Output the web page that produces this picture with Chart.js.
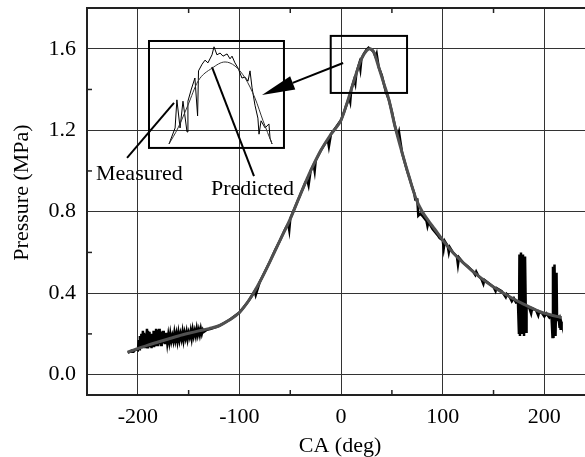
<!DOCTYPE html>
<html>
<head>
<meta charset="utf-8">
<script src="https://cdn.jsdelivr.net/npm/chart.js@4.4.0/dist/chart.umd.min.js"></script>
<style>
  html, body { margin: 0; padding: 0; background: #fff; }
  #wrap { position: relative; width: 585px; height: 457px; }
  #inset { position: absolute; left: 0; top: 0; }
</style>
</head>
<body>
<div id="wrap">
  <canvas id="main" width="585" height="457"></canvas>
  <canvas id="inset" width="10" height="10"></canvas>
</div>
<script>
// Axis ticks
const xTicks = [-200, -100, 0, 100, 200];
const yTicks = [0, 0.4, 0.8, 1.2, 1.6];
const xMinor = [-150, -50, 50, 150];
const yMinor = [0.2, 0.6, 1.0, 1.4];

// Predicted pressure (smooth curve)
const predCA = [-210, -200, -190, -180, -170, -160, -150, -140, -130, -120, -110, -100, -90, -80, -70, -60,
  -50, -40, -30, -20, -10, 0, 5, 10, 15, 20, 25, 28, 32, 37, 42, 47, 53, 60, 67, 74, 80, 86, 92, 100,
  110, 120, 135, 150, 165, 180, 195, 205, 217];
const predP = [0.11, 0.128, 0.145, 0.16, 0.175, 0.19, 0.203, 0.215, 0.226, 0.24, 0.268, 0.305, 0.37, 0.455, 0.555, 0.66,
  0.765, 0.885, 1.0, 1.1, 1.18, 1.25, 1.32, 1.40, 1.48, 1.55, 1.59, 1.6, 1.585, 1.51, 1.43, 1.35, 1.22, 1.09, 0.97, 0.86, 0.8, 0.755, 0.715, 0.66,
  0.6, 0.55, 0.485, 0.43, 0.385, 0.345, 0.31, 0.295, 0.28];

// Measured pressure (noisy trace)
const measCA = [-210, -208, -206, -204, -202, -200, -199, -198.5, -198, -197, -196.5, -196, -195, -194.5, -194, -193, -192.5, -192, -191, -190.5, -190,
  -189, -188.5, -188, -187, -186.5, -186, -185, -184.5, -184, -183, -182.5, -182, -181, -180.5, -180, -179, -178.5, -178, -177, -176.5, -176, -175, -174.5, -174, -173, -172,
  -171, -170, -169, -168, -167, -166, -165, -164, -163, -162, -161, -160, -159, -158, -157, -156, -155, -154, -153, -152, -151, -150, -149, -148, -147, -146, -145, -144,
  -143, -142, -141, -140, -139, -138, -137, -136, -135, -132, -128, -124, -120, -110, -100, -92, -90, -85, -84, -80, -75, -70,
  -65, -60, -55, -52, -51, -50, -45, -40, -35, -33, -32, -30, -27, -26, -25, -20, -15, -13, -12, -10, -5,
  0, 3, 5, 8, 9, 10, 13, 14, 15, 18, 19, 20, 23, 25, 27, 28, 30, 32, 34, 35, 37, 40, 42, 44, 47, 50, 53,
  56, 57, 60, 65, 67, 70, 72, 73, 75, 76, 78, 80, 84, 85, 86, 90, 95, 97, 100, 101, 102, 105, 106, 107, 110,
  114, 115, 116, 120, 125, 130, 132, 133, 135, 138, 140, 141, 145, 150, 152, 153, 158, 160, 162, 163, 166,
  168, 170, 172, 174, 175, 175.5, 176, 177, 178, 179, 180, 181, 182, 182.5, 185, 187, 188, 192, 194, 195,
  198, 200, 202, 205, 207, 208, 208.5, 209, 210, 211, 212, 212.5, 214, 215, 215.5, 216, 216.5, 217];
const measP = [0.108, 0.112, 0.118, 0.114, 0.125, 0.12, 0.17, 0.125, 0.19, 0.135, 0.2, 0.13, 0.215, 0.14, 0.205, 0.13, 0.2, 0.14, 0.225, 0.135, 0.215,
  0.14, 0.21, 0.135, 0.19, 0.13, 0.2, 0.14, 0.215, 0.135, 0.2, 0.14, 0.225, 0.145, 0.22, 0.14, 0.225, 0.15, 0.215, 0.145, 0.21, 0.15, 0.215, 0.155, 0.2, 0.15, 0.205,
  0.155, 0.195, 0.16, 0.2, 0.165, 0.19, 0.165, 0.205, 0.17, 0.2, 0.165, 0.205, 0.17, 0.2, 0.175, 0.21, 0.17, 0.205, 0.18, 0.21, 0.175, 0.205, 0.185, 0.215, 0.18, 0.22, 0.19, 0.215,
  0.19, 0.225, 0.195, 0.22, 0.195, 0.225, 0.2, 0.22, 0.21, 0.22, 0.225, 0.232, 0.24, 0.268, 0.305, 0.355, 0.37, 0.41, 0.39, 0.455, 0.505, 0.555,
  0.61, 0.66, 0.715, 0.74, 0.71, 0.765, 0.825, 0.885, 0.945, 0.95, 0.93, 1.0, 1.03, 1.0, 1.05, 1.1, 1.14, 1.15, 1.12, 1.18, 1.215,
  1.25, 1.29, 1.32, 1.36, 1.34, 1.40, 1.45, 1.43, 1.48, 1.53, 1.5, 1.55, 1.58, 1.595, 1.605, 1.6, 1.595, 1.585, 1.56, 1.575, 1.51, 1.47, 1.43, 1.39, 1.35, 1.29, 1.22,
  1.17, 1.19, 1.09, 1.0, 0.97, 0.92, 0.89, 0.86, 0.86, 0.78, 0.79, 0.78, 0.755, 0.73, 0.75, 0.715, 0.685, 0.67, 0.66, 0.62, 0.655, 0.63, 0.6, 0.625, 0.6,
  0.58, 0.54, 0.575, 0.55, 0.53, 0.505, 0.49, 0.505, 0.485, 0.47, 0.445, 0.465, 0.45, 0.43, 0.41, 0.425, 0.41, 0.395, 0.38, 0.395, 0.38,
  0.36, 0.375, 0.355, 0.36, 0.2, 0.59, 0.19, 0.6, 0.2, 0.59, 0.19, 0.58, 0.21, 0.34, 0.33, 0.3, 0.325, 0.315, 0.29, 0.31,
  0.3, 0.285, 0.3, 0.28, 0.29, 0.185, 0.53, 0.18, 0.54, 0.19, 0.5, 0.27, 0.28, 0.23, 0.27, 0.22, 0.26, 0.25];

// Inset (magnified peak), its own CA / pressure window
const insetPredCA = [8.9, 12.9, 17.3, 21.8, 28.0, 33.8, 38.2, 42.7, 47.1, 50.7, 54.7];
const insetPredP = [1.409, 1.445, 1.496, 1.550, 1.579, 1.593, 1.584, 1.557, 1.512, 1.461, 1.409];
const insetMeasCA = [8.9, 11.6, 12.4, 13.8, 15.1, 16.9, 17.3, 18.7, 20.4, 21.6, 22.0, 23.6, 24.9, 26.2, 28.0, 28.9,
  30.2, 31.6, 32.9, 34.7, 36.0, 36.9, 38.2, 39.6, 41.3, 42.7, 44.0, 44.9, 45.8, 47.1, 48.4, 48.9, 49.8, 51.6, 53.3, 53.8, 54.7];
const insetMeasP = [1.409, 1.445, 1.508, 1.445, 1.505, 1.436, 1.505, 1.530, 1.557, 1.472, 1.573, 1.588, 1.597, 1.591, 1.609, 1.627,
  1.609, 1.613, 1.606, 1.611, 1.600, 1.606, 1.591, 1.579, 1.557, 1.559, 1.550, 1.573, 1.535, 1.496, 1.467, 1.431, 1.461, 1.445, 1.454, 1.422, 1.409];

// Annotation geometry in data units
const zoomBox = { x0: -10.2, x1: 64.9, y0: 1.383, y1: 1.663 };
const insetBox = { x0: -189, x1: -56.2, y0: 1.113, y1: 1.638 };
const arrow = { x0: 2, y0: 1.53, x1: -77.8, y1: 1.373 };
const measLeader = { x0: -210.6, y0: 1.064, x1: -164.4, y1: 1.334 };
const predLeader = { x0: -127, y0: 1.51, x1: -85.7, y1: 0.975 };
const measLabel = { x: -241.1, y: 0.956, text: 'Measured' };
const predLabel = { x: -128, y: 0.882, text: 'Predicted' };

const FONT = '"Liberation Serif", "Times New Roman", serif';
Chart.defaults.font.family = FONT;
Chart.defaults.font.size = 22;
Chart.defaults.color = '#000';

function pairs(xs, ys) {
  return xs.map((v, i) => ({ x: v, y: ys[i] }));
}

const decorPlugin = {
  id: 'decor',
  afterDraw(chart) {
    const { ctx, chartArea: a, scales: { x, y } } = chart;
    const line = (x0, y0, x1, y1) => {
      ctx.beginPath(); ctx.moveTo(x0, y0); ctx.lineTo(x1, y1); ctx.stroke();
    };
    ctx.save();
    ctx.strokeStyle = '#222';
    ctx.lineWidth = 2;
    // top frame
    line(a.left, a.top, a.right, a.top);
    // minor ticks, inward
    ctx.lineWidth = 1.5;
    xMinor.forEach(v => {
      const px = x.getPixelForValue(v);
      line(px, a.bottom, px, a.bottom - 5);
      line(px, a.top, px, a.top + 5);
    });
    yMinor.forEach(v => {
      const py = y.getPixelForValue(v);
      line(a.left, py, a.left + 5, py);
    });

    // boxes
    ctx.strokeStyle = '#000';
    ctx.lineWidth = 2;
    [zoomBox, insetBox].forEach(b => {
      const l = x.getPixelForValue(b.x0), r = x.getPixelForValue(b.x1);
      const t = y.getPixelForValue(b.y1), btm = y.getPixelForValue(b.y0);
      ctx.strokeRect(l, t, r - l, btm - t);
    });

    // leader lines
    ctx.lineWidth = 2;
    [measLeader, predLeader].forEach(s => {
      line(x.getPixelForValue(s.x0), y.getPixelForValue(s.y0), x.getPixelForValue(s.x1), y.getPixelForValue(s.y1));
    });

    // arrow
    const ax0 = x.getPixelForValue(arrow.x0), ay0 = y.getPixelForValue(arrow.y0);
    const ax1 = x.getPixelForValue(arrow.x1), ay1 = y.getPixelForValue(arrow.y1);
    const len = Math.hypot(ax0 - ax1, ay0 - ay1);
    const ux = (ax0 - ax1) / len, uy = (ay0 - ay1) / len;
    const headLen = 33, half = 7;
    const bx = ax1 + ux * headLen, by = ay1 + uy * headLen;
    line(ax0, ay0, bx, by);
    ctx.fillStyle = '#000';
    ctx.beginPath();
    ctx.moveTo(ax1, ay1);
    ctx.lineTo(bx - uy * half, by + ux * half);
    ctx.lineTo(bx + uy * half, by - ux * half);
    ctx.closePath();
    ctx.fill();

    // labels
    ctx.font = '22px ' + FONT;
    ctx.textAlign = 'left';
    ctx.textBaseline = 'alphabetic';
    [measLabel, predLabel].forEach(l => {
      ctx.fillText(l.text, x.getPixelForValue(l.x), y.getPixelForValue(l.y));
    });

    // axis titles
    ctx.textAlign = 'center';
    ctx.textBaseline = 'middle';
    ctx.fillText('CA (deg)', (a.left + a.right) / 2 + 4, a.bottom + 51);
    ctx.translate(22, (a.top + a.bottom) / 2 - 9);
    ctx.rotate(-Math.PI / 2);
    ctx.fillText('Pressure (MPa)', 0, 0);
    ctx.restore();
  }
};

const mainChart = new Chart(document.getElementById('main'), {
  type: 'line',
  data: {
    datasets: [
      {
        label: 'Predicted',
        data: pairs(predCA, predP),
        borderColor: '#505050',
        borderWidth: 3,
        pointRadius: 0,
        cubicInterpolationMode: 'monotone',
        order: 0
      },
      {
        label: 'Measured',
        data: pairs(measCA, measP),
        borderColor: '#000',
        borderWidth: 2.5,
        pointRadius: 0,
        tension: 0,
        order: 1
      }
    ]
  },
  options: {
    responsive: false,
    animation: false,
    events: [],
    layout: { padding: { top: 8, right: 0, left: 0, bottom: 0 } },
    plugins: { legend: { display: false }, tooltip: { enabled: false } },
    scales: {
      x: {
        type: 'linear',
        min: -250,
        max: 240,
        afterBuildTicks: s => { s.ticks = xTicks.map(v => ({ value: v })); },
        afterFit: s => { s.height = 62; s.paddingLeft = 0; s.paddingRight = 0; },
        grid: { color: '#333', lineWidth: 1, drawTicks: false },
        border: { color: '#222', width: 2 },
        ticks: { padding: 9, maxRotation: 0, callback: v => String(v) }
      },
      y: {
        min: -0.1,
        max: 1.8,
        afterBuildTicks: s => { s.ticks = yTicks.map(v => ({ value: v })); },
        afterFit: s => { s.width = 87; s.paddingTop = 0; s.paddingBottom = 0; },
        grid: { color: '#333', lineWidth: 1, drawTicks: false },
        border: { color: '#222', width: 2 },
        ticks: { padding: 11, callback: v => Number(v).toFixed(1) }
      }
    }
  },
  plugins: [decorPlugin]
});

// Inset chart placed over the inset box
const sx = mainChart.scales.x, sy = mainChart.scales.y;
const boxLeft = Math.round(sx.getPixelForValue(insetBox.x0));
const boxRight = Math.round(sx.getPixelForValue(insetBox.x1));
const boxTop = Math.round(sy.getPixelForValue(insetBox.y1));
const boxBottom = Math.round(sy.getPixelForValue(insetBox.y0));
const insetCanvas = document.getElementById('inset');
insetCanvas.width = boxRight - boxLeft;
insetCanvas.height = boxBottom - boxTop;
insetCanvas.style.left = boxLeft + 'px';
insetCanvas.style.top = boxTop + 'px';
insetCanvas.style.width = (boxRight - boxLeft) + 'px';
insetCanvas.style.height = (boxBottom - boxTop) + 'px';

new Chart(insetCanvas, {
  type: 'line',
  data: {
    datasets: [
      {
        data: pairs(insetPredCA, insetPredP),
        borderColor: '#333',
        borderWidth: 1,
        pointRadius: 0,
        cubicInterpolationMode: 'monotone'
      },
      {
        data: pairs(insetMeasCA, insetMeasP),
        borderColor: '#000',
        borderWidth: 1,
        pointRadius: 0,
        tension: 0
      }
    ]
  },
  options: {
    responsive: false,
    animation: false,
    events: [],
    layout: { padding: 0 },
    plugins: { legend: { display: false }, tooltip: { enabled: false } },
    scales: {
      x: { type: 'linear', display: false, min: 0, max: 60 },
      y: { display: false, min: 1.40, max: 1.64 }
    }
  }
});
</script>
</body>
</html>
